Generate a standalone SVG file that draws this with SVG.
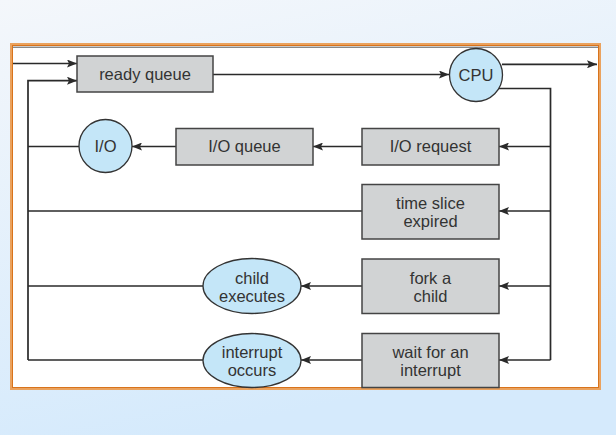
<svg xmlns="http://www.w3.org/2000/svg" width="616" height="435" viewBox="0 0 616 435">
<defs>
<linearGradient id="bg" x1="0" y1="0" x2="0.3" y2="1">
<stop offset="0" stop-color="#f4f7fb"/>
<stop offset="1" stop-color="#d5eafc"/>
</linearGradient>
<marker id="ah" viewBox="0 0 10 8" refX="10" refY="4" markerWidth="10" markerHeight="8" markerUnits="userSpaceOnUse" orient="auto">
<path d="M0,0 L10,4 L0,8 L2,4 Z" fill="#2a2a2a"/>
</marker>
<style>
.box{fill:#d1d3d4;stroke:#444;stroke-width:1.5}
.cir{fill:#c4e6f8;stroke:#333;stroke-width:1.3}
.ln{fill:none;stroke:#2a2a2a;stroke-width:1.7}
.t{font-family:"Liberation Sans",Arial,sans-serif;font-size:16.5px;fill:#333;text-anchor:middle}
</style>
</defs>
<rect x="0" y="0" width="616" height="435" fill="url(#bg)"/>
<rect x="11.5" y="44.5" width="588" height="344" fill="#ffffff" stroke="#eaa25e" stroke-width="3"/>
<rect x="12.5" y="45.5" width="586" height="342" fill="none" stroke="#d8731c" stroke-width="1"/>
<line x1="13" y1="47.2" x2="598" y2="47.2" stroke="#555" stroke-width="1"/>

<g id="connectors">
<line class="ln" x1="13" y1="63.5" x2="77" y2="63.5" marker-end="url(#ah)"/>
<polyline class="ln" points="28,360 28,80.7 77,80.7" marker-end="url(#ah)"/>
<line class="ln" x1="213" y1="74.5" x2="449" y2="74.5" marker-end="url(#ah)"/>
<line class="ln" x1="502" y1="64.3" x2="597" y2="64.3" marker-end="url(#ah)"/>
<polyline class="ln" points="499,88.5 550.5,88.5 550.5,360"/>
<line class="ln" x1="550.5" y1="146.5" x2="499" y2="146.5" marker-end="url(#ah)"/>
<line class="ln" x1="362" y1="146.5" x2="313" y2="146.5" marker-end="url(#ah)"/>
<line class="ln" x1="176" y1="146.5" x2="132" y2="146.5" marker-end="url(#ah)"/>
<line class="ln" x1="79" y1="146.5" x2="28" y2="146.5"/>
<line class="ln" x1="550.5" y1="211" x2="499" y2="211" marker-end="url(#ah)"/>
<line class="ln" x1="362" y1="211" x2="28" y2="211"/>
<line class="ln" x1="550.5" y1="286" x2="499" y2="286" marker-end="url(#ah)"/>
<line class="ln" x1="362" y1="286" x2="301" y2="286" marker-end="url(#ah)"/>
<line class="ln" x1="203" y1="286" x2="28" y2="286"/>
<line class="ln" x1="550.5" y1="360" x2="499" y2="360" marker-end="url(#ah)"/>
<line class="ln" x1="362" y1="360" x2="301" y2="360" marker-end="url(#ah)"/>
<line class="ln" x1="203" y1="360" x2="28" y2="360"/>
</g>

<g id="ready-queue">
<rect class="box" x="77" y="56" width="136" height="36"/>
<text class="t" x="145" y="80">ready queue</text>
</g>
<g id="cpu">
<circle class="cir" cx="476" cy="75" r="26.5"/>
<text class="t" x="476" y="81">CPU</text>
</g>
<g id="io">
<circle class="cir" cx="105.5" cy="146" r="26.5"/>
<text class="t" x="105.5" y="152">I/O</text>
</g>
<g id="io-queue">
<rect class="box" x="176" y="128.5" width="137" height="36.5"/>
<text class="t" x="244.5" y="152.4">I/O queue</text>
</g>
<g id="io-request">
<rect class="box" x="362" y="128.5" width="137" height="36.5"/>
<text class="t" x="430.5" y="152.4">I/O request</text>
</g>
<g id="time-slice">
<rect class="box" x="362" y="184.5" width="137" height="54.5"/>
<text class="t" x="430.5" y="208.5">time slice</text>
<text class="t" x="430.5" y="226.5">expired</text>
</g>
<g id="fork-child">
<rect class="box" x="362" y="259" width="137" height="54.5"/>
<text class="t" x="430.5" y="283.5">fork a</text>
<text class="t" x="430.5" y="301.5">child</text>
</g>
<g id="wait-interrupt">
<rect class="box" x="362" y="333.5" width="137" height="54"/>
<text class="t" x="430.5" y="358">wait for an</text>
<text class="t" x="430.5" y="375.8">interrupt</text>
</g>
<g id="child-executes">
<ellipse class="cir" cx="252" cy="286" rx="49" ry="27.5"/>
<text class="t" x="252" y="283.5">child</text>
<text class="t" x="252" y="301.5">executes</text>
</g>
<g id="interrupt-occurs">
<ellipse class="cir" cx="252" cy="360.5" rx="49" ry="27"/>
<text class="t" x="252" y="357.5">interrupt</text>
<text class="t" x="252" y="375.8">occurs</text>
</g>
</svg>
